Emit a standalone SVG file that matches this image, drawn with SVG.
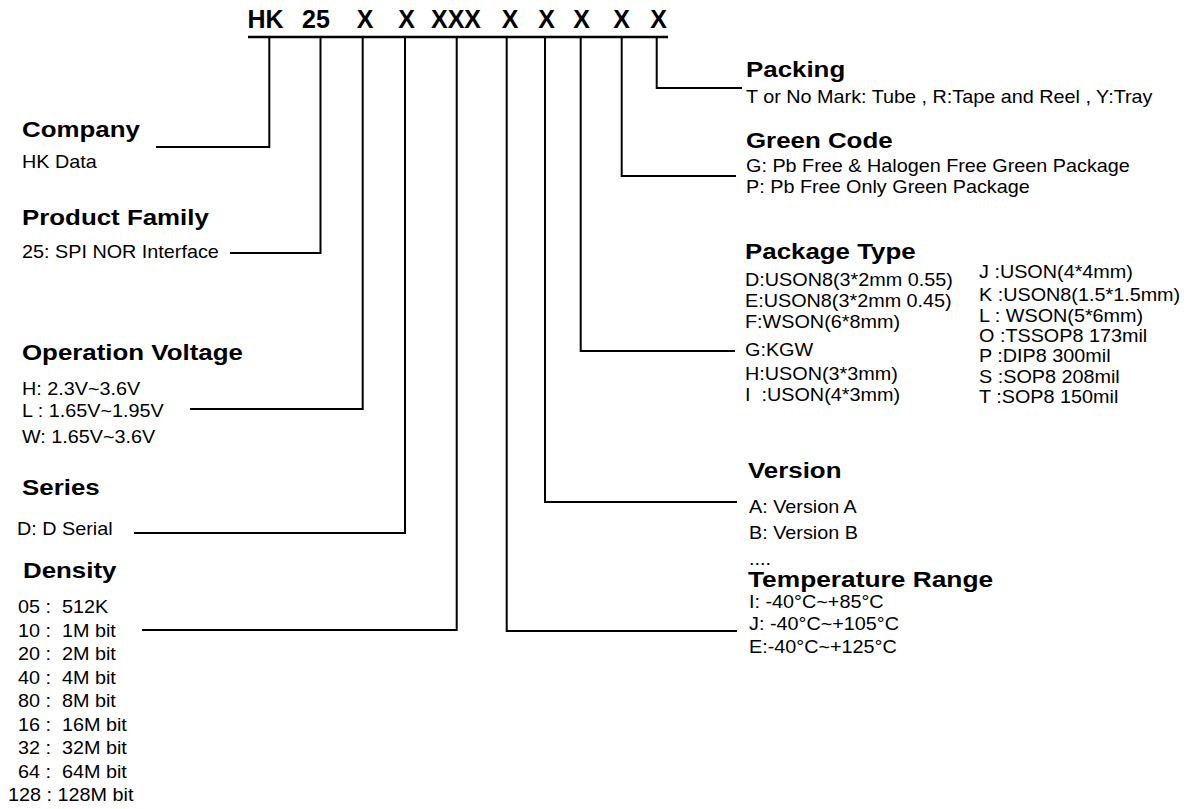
<svg xmlns="http://www.w3.org/2000/svg" width="1190" height="809" viewBox="0 0 1190 809">
<style>
.t{font-family:"Liberation Sans",Arial,Helvetica,sans-serif;fill:#000}
.h{font-size:22.5px;font-weight:bold}
.b{font-size:18px;white-space:pre}
.title{font-size:25px;font-weight:bold;text-anchor:middle}
.ln{stroke:#000;stroke-width:2;fill:none}
.top{stroke:#000;stroke-width:2.6;fill:none}
</style>
<rect width="1190" height="809" fill="#fff"/>
<g id="part-number">
<text class="t title" y="28"><tspan x="265.5">HK</tspan><tspan x="316">25</tspan><tspan x="365">X</tspan><tspan x="406.5">X</tspan><tspan x="456">XXX</tspan><tspan x="510">X</tspan><tspan x="546.5">X</tspan><tspan x="581.5">X</tspan><tspan x="621.5">X</tspan><tspan x="658.5">X</tspan></text>
</g>
<g id="connectors">
<line class="top" x1="248" y1="37" x2="668" y2="37"/>
<polyline class="ln" points="269.3,37 269.3,147 156,147"/>
<polyline class="ln" points="320.5,37 320.5,253 230,253"/>
<polyline class="ln" points="362.7,37 362.7,409 190,409"/>
<polyline class="ln" points="405,37 405,533 134,533"/>
<polyline class="ln" points="456.7,37 456.7,630 142,630"/>
<polyline class="ln" points="506.7,37 506.7,631 737,631"/>
<polyline class="ln" points="545,37 545,502 737,502"/>
<polyline class="ln" points="580.7,37 580.7,351 735,351"/>
<polyline class="ln" points="621.7,37 621.7,176 736,176"/>
<polyline class="ln" points="656.7,37 656.7,88 742,88"/>
</g>
<g id="company">
<text class="t h" transform="translate(22,137) scale(1.15,1)">Company</text>
<text class="t b" transform="translate(22,168) scale(1.1,1)">HK Data</text>
</g>
<g id="product-family">
<text class="t h" transform="translate(22,225) scale(1.15,1)">Product Family</text>
<text class="t b" transform="translate(22,258) scale(1.1,1)">25: SPI NOR Interface</text>
</g>
<g id="operation-voltage">
<text class="t h" transform="translate(22,360) scale(1.15,1)">Operation Voltage</text>
<text class="t b" transform="translate(22,395) scale(1.1,1)">H: 2.3V~3.6V</text>
<text class="t b" transform="translate(22,417) scale(1.1,1)">L : 1.65V~1.95V</text>
<text class="t b" transform="translate(22,443) scale(1.1,1)">W: 1.65V~3.6V</text>
</g>
<g id="series">
<text class="t h" transform="translate(22,495) scale(1.15,1)">Series</text>
<text class="t b" transform="translate(17,535) scale(1.1,1)">D: D Serial</text>
</g>
<g id="density">
<text class="t h" transform="translate(23,578) scale(1.15,1)">Density</text>
<text class="t b" transform="translate(18,613) scale(1.1,1)">05 :  512K</text>
<text class="t b" transform="translate(18,636.5) scale(1.1,1)">10 :  1M bit</text>
<text class="t b" transform="translate(18,660) scale(1.1,1)">20 :  2M bit</text>
<text class="t b" transform="translate(18,683.5) scale(1.1,1)">40 :  4M bit</text>
<text class="t b" transform="translate(18,707) scale(1.1,1)">80 :  8M bit</text>
<text class="t b" transform="translate(18,730.5) scale(1.1,1)">16 :  16M bit</text>
<text class="t b" transform="translate(18,754) scale(1.1,1)">32 :  32M bit</text>
<text class="t b" transform="translate(18,777.5) scale(1.1,1)">64 :  64M bit</text>
<text class="t b" transform="translate(8,801) scale(1.1,1)">128 : 128M bit</text>
</g>
<g id="packing">
<text class="t h" transform="translate(746,77) scale(1.15,1)">Packing</text>
<text class="t b" transform="translate(746,103) scale(1.1,1)">T or No Mark: Tube , R:Tape and Reel , Y:Tray</text>
</g>
<g id="green-code">
<text class="t h" transform="translate(746,148) scale(1.15,1)">Green Code</text>
<text class="t b" transform="translate(746,172) scale(1.1,1)">G: Pb Free &amp; Halogen Free Green Package</text>
<text class="t b" transform="translate(746,193) scale(1.1,1)">P: Pb Free Only Green Package</text>
</g>
<g id="package-type">
<text class="t h" transform="translate(745,259) scale(1.15,1)">Package Type</text>
<text class="t b" transform="translate(745,286) scale(1.1,1)">D:USON8(3*2mm 0.55)</text>
<text class="t b" transform="translate(745,307) scale(1.1,1)">E:USON8(3*2mm 0.45)</text>
<text class="t b" transform="translate(745,328) scale(1.1,1)">F:WSON(6*8mm)</text>
<text class="t b" transform="translate(745,356) scale(1.1,1)">G:KGW</text>
<text class="t b" transform="translate(745,380) scale(1.1,1)">H:USON(3*3mm)</text>
<text class="t b" transform="translate(745,401) scale(1.1,1)">I  :USON(4*3mm)</text>
<text class="t b" transform="translate(979,278) scale(1.1,1)">J :USON(4*4mm)</text>
<text class="t b" transform="translate(979,301) scale(1.1,1)">K :USON8(1.5*1.5mm)</text>
<text class="t b" transform="translate(979,322) scale(1.1,1)">L : WSON(5*6mm)</text>
<text class="t b" transform="translate(979,342) scale(1.1,1)">O :TSSOP8 173mil</text>
<text class="t b" transform="translate(979,362) scale(1.1,1)">P :DIP8 300mil</text>
<text class="t b" transform="translate(979,383) scale(1.1,1)">S :SOP8 208mil</text>
<text class="t b" transform="translate(979,403) scale(1.1,1)">T :SOP8 150mil</text>
</g>
<g id="version">
<text class="t h" transform="translate(748,478) scale(1.15,1)">Version</text>
<text class="t b" transform="translate(749,513) scale(1.1,1)">A: Version A</text>
<text class="t b" transform="translate(749,539) scale(1.1,1)">B: Version B</text>
<text class="t b" transform="translate(749,565) scale(1.1,1)">....</text>
</g>
<g id="temperature-range">
<text class="t h" transform="translate(748,587) scale(1.17,1)">Temperature Range</text>
<text class="t b" transform="translate(749,608) scale(1.1,1)">I: -40°C~+85°C</text>
<text class="t b" transform="translate(749,630) scale(1.1,1)">J: -40°C~+105°C</text>
<text class="t b" transform="translate(749,653) scale(1.1,1)">E:-40°C~+125°C</text>
</g>
</svg>
